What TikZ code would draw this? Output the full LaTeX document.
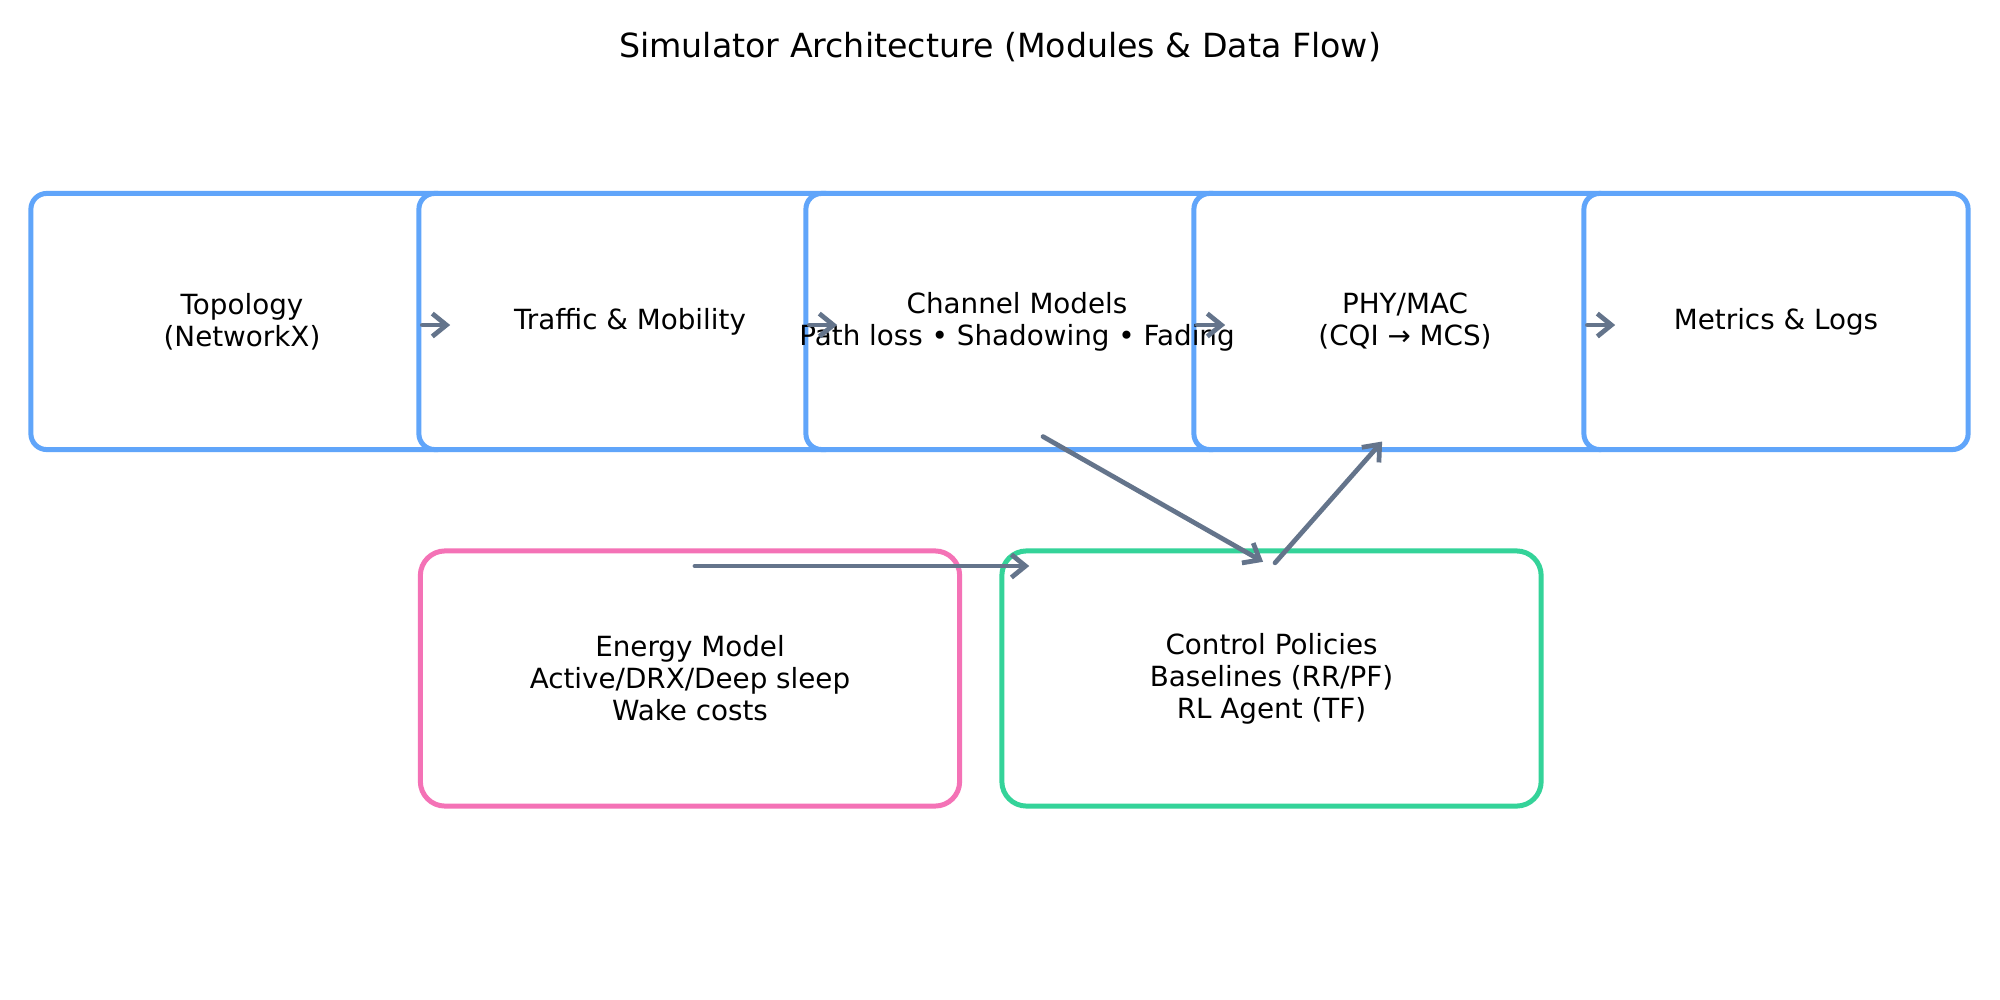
\documentclass[tikz,border=0pt]{standalone}
\usepackage{fontspec}
\setmainfont{DejaVu Sans}
\usetikzlibrary{arrows.meta}
\definecolor{boxblue}{HTML}{60A5FA}
\definecolor{boxpink}{HTML}{F472B6}
\definecolor{boxgreen}{HTML}{34D399}
\definecolor{arrgray}{HTML}{64748B}
\begin{document}
\begin{tikzpicture}[x=0.01cm,y=-0.01cm,
  modbox/.style={draw=boxblue, line width=1.42pt, fill=white, rounded corners=4.5pt,
    minimum height=2.56cm, inner sep=0pt},
  topbox/.style={modbox, minimum width=4.22cm},
  lowbox/.style={modbox, rounded corners=7pt, minimum width=5.39cm, minimum height=2.55cm},
  boxtext/.style={inner sep=0pt, align=center, font=\fontsize{7.9pt}{9.1pt}\selectfont},
  arr/.style={draw=arrgray, line width=1.35pt, line cap=round, line join=round,
    -{Straight Barb[length=4pt,width=6.5pt,line width=1.35pt]}},
  titlestyle/.style={font=\fontsize{9.45pt}{11pt}\selectfont, inner sep=0pt}
]
\fill[white] (0,0) rectangle (2000,1000);
\useasboundingbox (0,0) rectangle (2000,1000);

\node[titlestyle] (title) at (1000,47) {Simulator Architecture (Modules \& Data Flow)};

\node[topbox] (b1) at (242,321.5) {};
\node[topbox] (b2) at (630,321.5) {};
\node[topbox] (b3) at (1017,321.5) {};
\node[topbox] (b4) at (1405,321.5) {};
\node[modbox, minimum width=3.84cm] (b5) at (1776,321.5) {};

\node[lowbox, draw=boxpink] (energy) at (690,678.5) {};
\node[lowbox, draw=boxgreen] (ctl) at (1271.5,678.5) {};

\node[boxtext] (t1) at (b1.center) {Topology\\(NetworkX)};
\node[boxtext] (t2) at (b2.center) {Traffic \& Mobility};
\node[boxtext] (t3) at (b3.center) {Channel Models\\Path loss • Shadowing • Fading};
\node[boxtext] (t4) at (b4.center) {PHY/MAC\\(CQI → MCS)};
\node[boxtext] (t5) at (b5.center) {Metrics \& Logs};
\node[boxtext] (te) at (energy.center) {Energy Model\\Active/DRX/Deep sleep\\Wake costs};
\node[boxtext] (tc) at (ctl.center) {Control Policies\\Baselines (RR/PF)\\RL Agent (TF)};

\draw[arr] ([xshift=1.7pt,yshift=-1pt]b2.west) -- ([xshift=9.6pt,yshift=-1pt]b2.west);
\draw[arr] ([xshift=1.7pt,yshift=-1pt]b3.west) -- ([xshift=9.6pt,yshift=-1pt]b3.west);
\draw[arr] ([xshift=1.7pt,yshift=-1pt]b4.west) -- ([xshift=9.6pt,yshift=-1pt]b4.west);
\draw[arr] ([xshift=1.7pt,yshift=-1pt]b5.west) -- ([xshift=9.6pt,yshift=-1pt]b5.west);

\draw[arr] ([xshift=7.4pt,yshift=4.4pt]b3.south) -- ([xshift=-2.4pt,yshift=-3.8pt]ctl.north);
\draw[arr] ([xshift=1pt,yshift=-4.1pt]ctl.north) -- ([xshift=-6.5pt,yshift=3pt]b4.south);
\draw[arr] ([xshift=1.4pt,yshift=-5pt]energy.north) -- ([xshift=8.5pt,yshift=-5pt]ctl.north west);
\end{tikzpicture}
\end{document}
